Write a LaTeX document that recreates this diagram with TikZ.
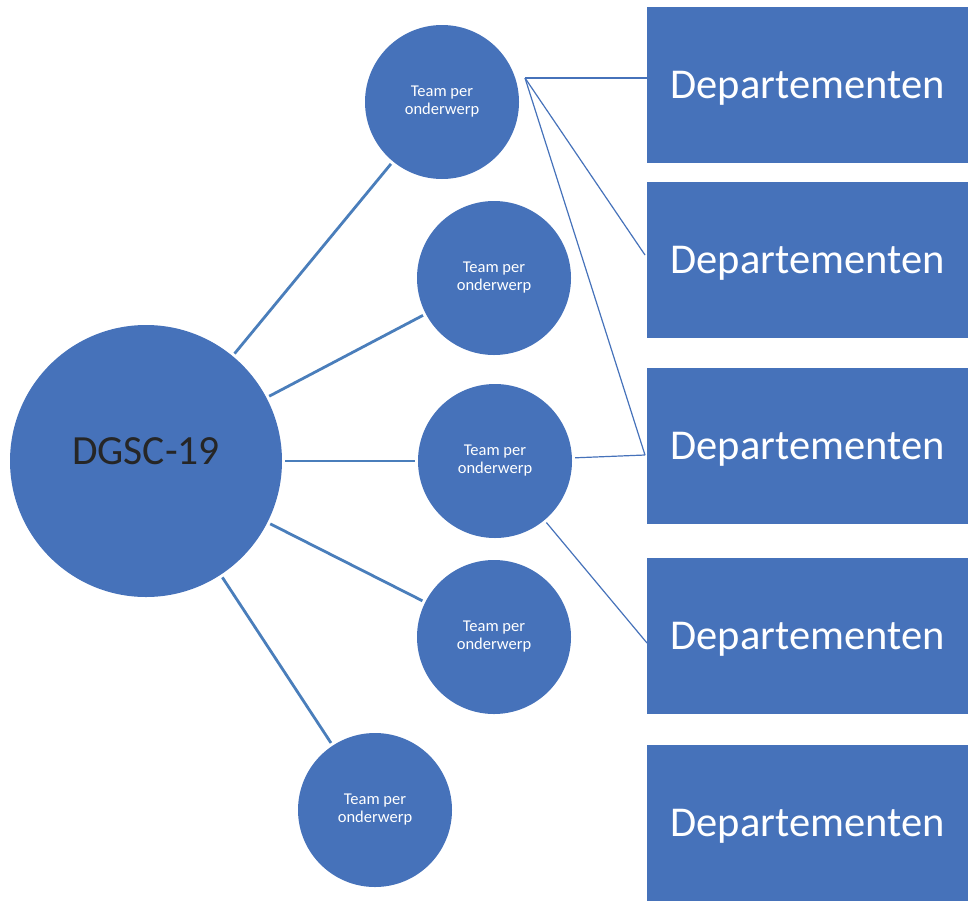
\documentclass[tikz,border=0pt]{standalone}
\usepackage{fontspec}
\setmainfont{Carlito}
\usepackage{tikz}
\definecolor{vakblauw}{RGB}{70,114,186}
\definecolor{lijnblauw}{RGB}{74,126,187}

\begin{document}
\begin{tikzpicture}[x=1pt, y=-1pt,
		groot/.style={circle, fill=vakblauw, minimum size=272pt, inner sep=0pt, text=black!85, font=\fontsize{41.5}{48}\selectfont},
		team/.style={circle, fill=vakblauw, minimum size=154pt, inner sep=0pt, align=center, text=white, font=\fontsize{16.5}{18}\selectfont},
		dept/.style={rectangle, fill=vakblauw, minimum width=321pt, minimum height=156pt, inner sep=0pt, text depth=0pt, text=white, font=\fontsize{42.5}{48}\selectfont},
		dik/.style={draw=lijnblauw, line width=2.8pt, shorten >=3pt, shorten <=3pt},
		dun/.style={draw=vakblauw, line width=1.2pt}]
			\useasboundingbox (0,0) rectangle (968,900);
			\node[groot] (dgsc) at (146,461) {\raisebox{10pt}[\height][\depth]{DGSC-19}};
			\node[team] (t1) at (442,102) {Team per\\onderwerp};
			\node[team] (t2) at (494,278) {Team per\\onderwerp};
			\node[team] (t3) at (495,461) {Team per\\onderwerp};
			\node[team] (t4) at (494,637) {Team per\\onderwerp};
			\node[team] (t5) at (375,810) {Team per\\onderwerp};
			\node[dept] (r1) at (807.5,85) {Departementen};
			\node[dept] (r2) at (807.5,259.5) {Departementen};
			\node[dept] (r3) at (807.5,446) {Departementen};
			\node[dept] (r4) at (807.5,636) {Departementen};
			\node[dept] (r5) at (807.5,823) {Departementen};
			\coordinate (t1out) at (525,78);
			\coordinate (r1in) at (647,78);
			\coordinate (r2in) at (645,255);
			\coordinate (r3in) at (645,455);
			\coordinate (r4in) at (647,643);
			\draw[dik] (dgsc) -- (t1);
			\draw[dik] (dgsc) -- (t2);
			\draw[dik] (dgsc) -- (t3);
			\draw[dik] (dgsc) -- (t4);
			\draw[dik] (dgsc) -- (t5);
			\draw[dun] (t1out) -- (r1in);
			\draw[dun] (t1out) -- (r2in);
			\draw[dun] (t1out) -- (r3in);
			\draw[dun, shorten <=3pt] (t3) -- (r3in);
			\draw[dun, shorten <=3pt] (t3) -- (r4in);
		\end{tikzpicture}
\end{document}
